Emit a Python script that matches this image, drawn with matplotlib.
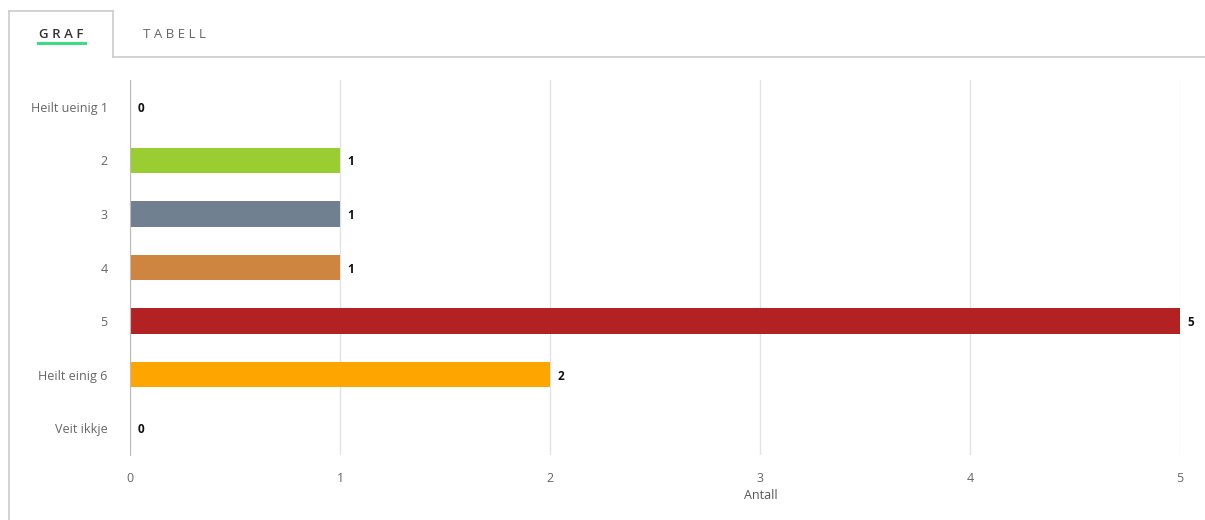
import matplotlib.pyplot as plt
from matplotlib.lines import Line2D

categories = ['Heilt ueinig 1', '2', '3', '4', '5', 'Heilt einig 6', 'Veit ikkje']
counts = [0, 1, 1, 1, 5, 2, 0]
colors = ['#9ACD32', '#9ACD32', '#708090', '#CD853F', '#B22222', '#FFA500', '#FFA500']
x_ticks = [0, 1, 2, 3, 4, 5]

plt.rcParams['font.family'] = ['Open Sans', 'DejaVu Sans']

W, H = 1205, 520
fig = plt.figure(figsize=(W / 100, H / 100), dpi=100)

# tab header
def px(x, y):
    return x / W, 1 - y / H

border = '#cccccc'
for (x0, y0), (x1, y1) in [((9, 11), (113, 11)), ((113, 11), (113, 57)),
                           ((113, 57), (W, 57)), ((9, 11), (9, H))]:
    a, b = px(x0, y0)
    c, d = px(x1, y1)
    fig.add_artist(Line2D([a, c], [b, d], color=border, lw=1.2))

gx, gy = px(61, 34)
fig.text(gx, gy, 'G R A F', ha='center', va='center', fontsize=9.5,
         color='#333333', fontweight='semibold')
a, b = px(38, 43)
c, d = px(85, 43)
fig.add_artist(Line2D([a, c], [b, d], color='#3ddc84', lw=2.2))
tx, ty = px(174, 34)
fig.text(tx, ty, 'T A B E L L', ha='center', va='center', fontsize=9.5,
         color='#666666')

ax = fig.add_axes([130 / W, (H - 455) / H, 1050 / W, 375 / H])
ypos = list(range(len(categories)))
ax.barh(ypos, counts, height=0.47, color=colors)
for y, v in zip(ypos, counts):
    ax.text(v + 0.035, y + 0.03, str(v), va='center', ha='left', fontsize=8.5,
            fontweight='bold', color='#111111')

ax.set_xlim(0, 5)
ax.set_ylim(6.5, -0.5)
ax.set_yticks(ypos)
ax.set_yticklabels(categories)
ax.set_xticks(x_ticks)
ax.tick_params(length=0, labelsize=9, colors='#666666')
ax.tick_params(axis='y', pad=16)
ax.tick_params(axis='x', pad=12)
ax.grid(axis='x', color='#e3e3e3', lw=1)
ax.set_axisbelow(True)
for s in ['top', 'right', 'bottom']:
    ax.spines[s].set_visible(False)
ax.spines['left'].set_color('#bbbbbb')
ax.set_xlabel('Antall', fontsize=9, color='#555555', labelpad=8)
ax.xaxis.set_label_coords((761 - 130) / 1050, -0.09)

fig.savefig('out.png', dpi=100)
